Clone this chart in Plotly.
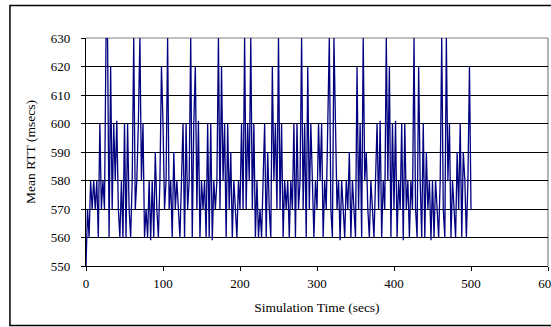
import plotly.graph_objects as go

# Simulation time (secs), sampled every 2 seconds
sim_time = list(range(0, 501, 2))

# Mean RTT (msecs)
mean_rtt = [
    550, 570, 560, 580, 570, 580, 570, 580, 560, 600,
    570, 580, 570, 630, 630, 560, 620, 570, 600, 580,
    601, 570, 560, 580, 560, 600, 560, 600, 570, 560,
    580, 630, 570, 580, 600, 630, 580, 600, 560, 570,
    560, 580, 559, 580, 560, 590, 570, 560, 580, 620,
    600, 570, 580, 630, 570, 580, 560, 590, 570, 580,
    570, 560, 580, 600, 560, 600, 570, 580, 630, 560,
    600, 620, 570, 601, 560, 580, 570, 580, 560, 600,
    560, 600, 559, 580, 570, 580, 630, 570, 620, 580,
    600, 560, 600, 570, 590, 560, 580, 570, 560, 580,
    570, 600, 570, 630, 570, 600, 580, 630, 570, 600,
    560, 580, 560, 570, 560, 580, 600, 560, 590, 570,
    560, 620, 580, 600, 570, 630, 570, 600, 560, 580,
    570, 580, 560, 580, 570, 600, 560, 600, 570, 580,
    630, 570, 600, 560, 620, 570, 600, 580, 560, 580,
    570, 600, 580, 600, 560, 580, 570, 600, 630, 570,
    560, 630, 600, 570, 580, 559, 580, 570, 560, 580,
    570, 590, 560, 580, 570, 560, 620, 570, 600, 560,
    630, 580, 590, 570, 560, 580, 570, 560, 580, 600,
    570, 601, 560, 580, 570, 630, 580, 620, 560, 600,
    570, 601, 560, 580, 570, 600, 559, 600, 570, 580,
    560, 580, 570, 630, 570, 560, 620, 580, 560, 600,
    560, 590, 570, 580, 559, 580, 560, 580, 570, 560,
    580, 630, 570, 560, 630, 580, 600, 560, 580, 570,
    560, 590, 570, 600, 560, 590, 580, 560, 580, 620,
    570,
]

y_ticks = [550, 560, 570, 580, 590, 600, 610, 620, 630]
x_ticks = [0, 100, 200, 300, 400, 500, 600]

FONT = "Liberation Serif, Times New Roman, serif"

fig = go.Figure()
fig.add_trace(go.Scatter(
    x=sim_time, y=mean_rtt, mode="lines",
    line=dict(color="#000080", width=1.3),
    showlegend=False, hoverinfo="skip",
))

# gray plot-area border on top and right
fig.add_shape(type="line", xref="paper", yref="paper", x0=0, x1=1, y0=1, y1=1,
              line=dict(color="#808080", width=1.2), layer="below")
fig.add_shape(type="line", xref="paper", yref="paper", x0=1, x1=1, y0=0, y1=1,
              line=dict(color="#808080", width=1.2), layer="below")
# outer chart border
fig.add_shape(type="rect", xref="paper", yref="paper",
              x0=-0.1646, x1=1.03, y0=-0.261, y1=1.142,
              line=dict(color="black", width=1.5), fillcolor="rgba(0,0,0,0)")

fig.update_layout(
    width=551, height=327,
    margin=dict(l=86, r=3, t=38, b=61),
    paper_bgcolor="white", plot_bgcolor="white",
    font=dict(family=FONT, size=13, color="black"),
)
fig.update_xaxes(
    range=[0, 600], tickvals=x_ticks, ticktext=[str(v) for v in x_ticks],
    showgrid=False, zeroline=False,
    showline=True, linecolor="black", linewidth=1.2,
    ticks="outside", ticklen=4, tickcolor="black", tickwidth=1.2,
    ticklabelstandoff=1, ticklabeloverflow="allow",
    title=dict(text="Simulation Time (secs)", standoff=12, font=dict(size=13.5)),
    automargin=False,
)
fig.update_yaxes(
    range=[550, 630], tickvals=y_ticks, ticktext=[str(v) for v in y_ticks],
    showgrid=True, gridcolor="black", gridwidth=1,
    zeroline=False,
    showline=True, linecolor="black", linewidth=1.2,
    ticks="outside", ticklen=4, tickcolor="black", tickwidth=1.2,
    ticklabelstandoff=8,
    title=dict(text="Mean RTT (msecs)", standoff=12, font=dict(size=13.5)),
    automargin=False,
)

fig.write_html("out.html", config={"displayModeBar": False},
               post_script="document.body.style.margin='0';")
